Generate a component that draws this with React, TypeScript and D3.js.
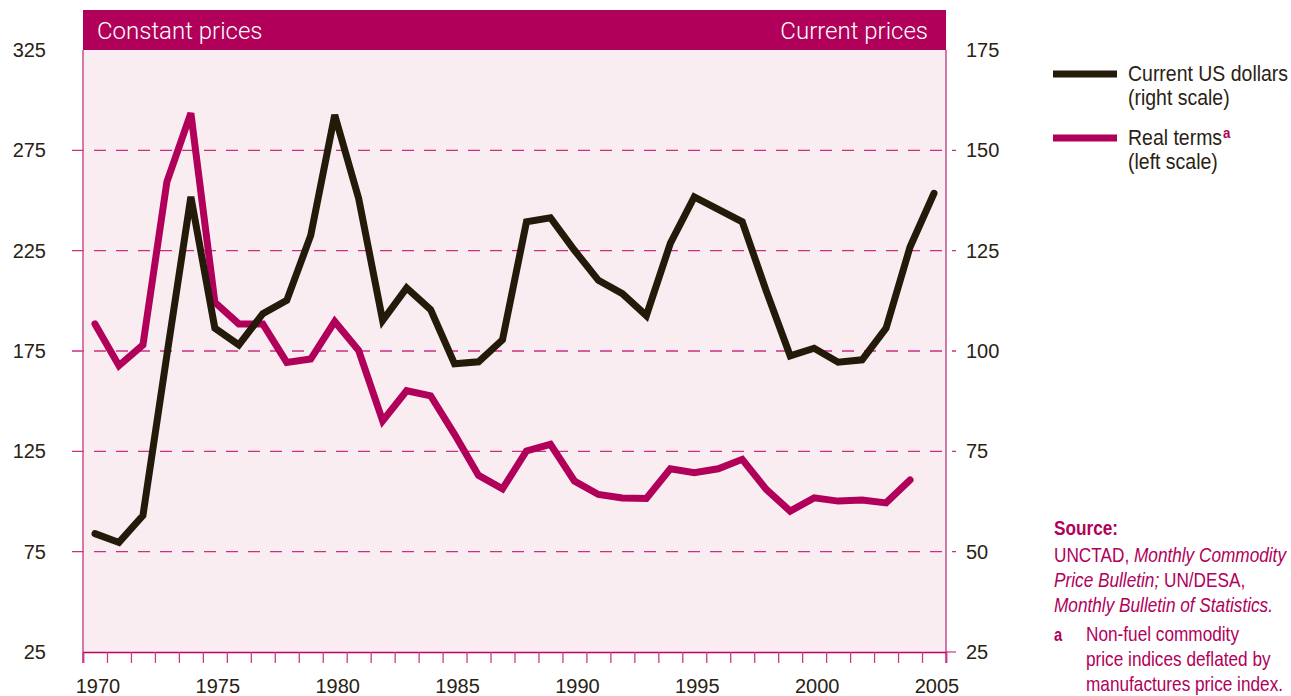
import * as d3 from 'd3'
import { useEffect, useRef } from 'react'

const years = [
  1970, 1971, 1972, 1973, 1974, 1975, 1976, 1977, 1978, 1979,
  1980, 1981, 1982, 1983, 1984, 1985, 1986, 1987, 1988, 1989,
  1990, 1991, 1992, 1993, 1994, 1995, 1996, 1997, 1998, 1999,
  2000, 2001, 2002, 2003, 2004, 2005,
]

// current US dollars, right scale (1970-2005)
const currentUsd = [
  54.5, 52.3, 59, 99, 138.4, 105.7, 101.5, 109.3, 112.6, 128.8,
  158.8, 138, 107.6, 115.7, 110.3, 96.8, 97.3, 102.8, 132.2, 133.2,
  125.1, 117.6, 114.3, 108.8, 126.8, 138.4, 135.3, 132.2, 115, 98.8,
  100.7, 97.2, 97.8, 105.7, 125.9, 139.3,
]

// real terms, left scale (1970-2004)
const realTerms = [
  188.5, 167.7, 178, 259.3, 293.5, 199.3, 188.5, 188.5, 169.3, 171,
  189.7, 175.2, 140.2, 155.2, 152.7, 133.5, 113, 106.3, 125.2, 128.5,
  110.2, 103.5, 101.8, 101.5, 116.3, 114.3, 116.3, 121, 106, 95.2,
  101.8, 100.2, 100.7, 99.3, 110.7,
]

const leftTicks = [25, 75, 125, 175, 225, 275, 325]
const rightTicks = [25, 50, 75, 100, 125, 150, 175]
const yearLabels = [1970, 1975, 1980, 1985, 1990, 1995, 2000, 2005]

const MAGENTA = '#b1005a'
const DARK = '#241a0a'
const LABEL = '#2a2214'
const NUM_FONT = '"Liberation Sans", Arial, sans-serif'

type Sel = d3.Selection<SVGGElement, unknown, null, undefined>

// condensed look: regular sans squeezed horizontally
function narrowText(g: Sel, x: number, y: number, sx: number) {
  return g.append('text')
    .attr('transform', `translate(${x},${y}) scale(${sx},1)`)
}

export default function App() {
  const svgRef = useRef<SVGSVGElement | null>(null)

  useEffect(() => {
    if (!svgRef.current)
      return

    const left = 83
    const right = 946
    const top = 10
    const bottom = 652
    const headerH = 40

    const svg = d3.select(svgRef.current)
    svg.selectAll('*').remove()

    const x = d3.scaleLinear().domain([years[0] - 0.5, years[years.length - 1] + 0.5]).range([left, right])
    const yL = d3.scaleLinear().domain([25, 325]).range([bottom, top + headerH])
    const yR = d3.scaleLinear().domain([25, 175]).range([bottom, top + headerH])

    // plot background + header band
    svg.append('rect')
      .attr('x', left).attr('y', top)
      .attr('width', right - left).attr('height', bottom - top)
      .attr('fill', '#f9edf2')
    svg.append('rect')
      .attr('x', left).attr('y', top)
      .attr('width', right - left).attr('height', headerH)
      .attr('fill', MAGENTA)

    svg.append('text')
      .attr('x', left + 14).attr('y', top + 29)
      .attr('fill', '#fff')
      .style('font-family', 'Roboto, sans-serif')
      .style('font-weight', 300)
      .style('font-size', '24px')
      .text('Constant prices')
    svg.append('text')
      .attr('x', right - 18).attr('y', top + 29)
      .attr('text-anchor', 'end')
      .attr('fill', '#fff')
      .style('font-family', 'Roboto, sans-serif')
      .style('font-weight', 300)
      .style('font-size', '24px')
      .text('Current prices')

    // dashed grid lines
    svg.append('g')
      .selectAll('line')
      .data(leftTicks.filter(d => d > 25 && d < 325))
      .enter()
      .append('line')
      .attr('x1', left - 11).attr('x2', right + 10)
      .attr('y1', d => yL(d)).attr('y2', d => yL(d))
      .attr('stroke', '#cc2f80')
      .attr('stroke-width', 1.3)
      .attr('stroke-dasharray', '12 10')

    // frame sides
    svg.append('line')
      .attr('x1', left).attr('x2', left)
      .attr('y1', top + headerH).attr('y2', bottom + 11)
      .attr('stroke', '#c4508c').attr('stroke-width', 1.5)
    svg.append('line')
      .attr('x1', right).attr('x2', right)
      .attr('y1', top + headerH).attr('y2', bottom + 11)
      .attr('stroke', '#c4508c').attr('stroke-width', 1.5)
    svg.append('line')
      .attr('x1', right).attr('x2', right + 10)
      .attr('y1', bottom).attr('y2', bottom)
      .attr('stroke', '#c4508c').attr('stroke-width', 1.3)

    // bottom axis with a tick every year boundary
    const xAxis = d3.axisBottom(x)
      .tickValues(d3.range(years[0] - 0.5, years[years.length - 1] + 1, 1))
      .tickSize(11)
      .tickFormat(() => '')
    const gx = svg.append('g')
      .attr('transform', `translate(0,${bottom})`)
      .call(xAxis)
    gx.select('.domain').attr('stroke', '#c0006a').attr('stroke-width', 1.5)
    gx.selectAll('.tick line').attr('stroke', '#c83c84').attr('stroke-width', 1.3)

    svg.append('g')
      .selectAll('text')
      .data(yearLabels)
      .enter()
      .append('text')
      .attr('x', d => x(d) + 3)
      .attr('y', 693)
      .attr('text-anchor', 'middle')
      .attr('fill', LABEL)
      .style('font-family', NUM_FONT)
      .style('font-size', '20px')
      .text(d => d)

    svg.append('g')
      .selectAll('text')
      .data(leftTicks)
      .enter()
      .append('text')
      .attr('x', 46)
      .attr('y', d => yL(d) + 7)
      .attr('text-anchor', 'end')
      .attr('fill', LABEL)
      .style('font-family', NUM_FONT)
      .style('font-size', '20px')
      .text(d => d)

    svg.append('g')
      .selectAll('text')
      .data(rightTicks)
      .enter()
      .append('text')
      .attr('x', 966)
      .attr('y', d => yR(d) + 7)
      .attr('fill', LABEL)
      .style('font-family', NUM_FONT)
      .style('font-size', '20px')
      .text(d => d)

    // series
    const lineR = d3.line<number>()
      .x((_, i) => x(years[i]))
      .y(d => yR(d))
    const lineL = d3.line<number>()
      .x((_, i) => x(years[i]))
      .y(d => yL(d))

    svg.append('path')
      .datum(realTerms)
      .attr('d', lineL)
      .attr('fill', 'none')
      .attr('stroke', MAGENTA)
      .attr('stroke-width', 7)
      .attr('stroke-linejoin', 'miter')
      .attr('stroke-linecap', 'round')

    svg.append('path')
      .datum(currentUsd)
      .attr('d', lineR)
      .attr('fill', 'none')
      .attr('stroke', DARK)
      .attr('stroke-width', 7)
      .attr('stroke-linejoin', 'miter')
      .attr('stroke-linecap', 'round')

    // legend
    const legend = svg.append('g')
      .style('font-family', NUM_FONT)
      .style('font-size', '22px')
      .attr('fill', LABEL)
    const lsx = 0.885
    legend.append('line')
      .attr('x1', 1053).attr('x2', 1117).attr('y1', 74).attr('y2', 74)
      .attr('stroke', DARK).attr('stroke-width', 7)
    narrowText(legend, 1128, 81, lsx).text('Current US dollars')
    narrowText(legend, 1128, 105, lsx).text('(right scale)')
    legend.append('line')
      .attr('x1', 1053).attr('x2', 1117).attr('y1', 138).attr('y2', 138)
      .attr('stroke', MAGENTA).attr('stroke-width', 7)
    const rt = narrowText(legend, 1128, 145, lsx)
    rt.append('tspan').text('Real terms')
    rt.append('tspan')
      .attr('dx', 1)
      .attr('dy', -7)
      .attr('fill', MAGENTA)
      .style('font-weight', 'bold')
      .style('font-size', '15px')
      .text('a')
    narrowText(legend, 1128, 169, lsx).text('(left scale)')

    // source note
    const note = svg.append('g')
      .style('font-family', NUM_FONT)
      .style('font-size', '21px')
      .attr('fill', MAGENTA)
    const nsx = 0.82
    narrowText(note, 1054, 535, nsx).style('font-weight', 'bold').text('Source:')
    const l1 = narrowText(note, 1054, 562, nsx)
    l1.append('tspan').text('UNCTAD, ')
    l1.append('tspan').style('font-style', 'italic').text('Monthly Commodity')
    const l2 = narrowText(note, 1054, 587, nsx)
    l2.append('tspan').style('font-style', 'italic').text('Price Bulletin;')
    l2.append('tspan').text(' UN/DESA,')
    narrowText(note, 1054, 612, nsx).style('font-style', 'italic').text('Monthly Bulletin of Statistics.')
    narrowText(note, 1054, 641, nsx).style('font-weight', 'bold').style('font-size', '18px').text('a')
    narrowText(note, 1086, 641, nsx).text('Non-fuel commodity')
    narrowText(note, 1086, 666, nsx).text('price indices deflated by')
    narrowText(note, 1086, 691, nsx).text('manufactures price index.')
  }, [])

  return (
    <svg
      ref={svgRef}
      width={1291}
      height={696}
      style={{ position: 'absolute', left: 0, top: 0, background: '#fff' }}
    />
  )
}
